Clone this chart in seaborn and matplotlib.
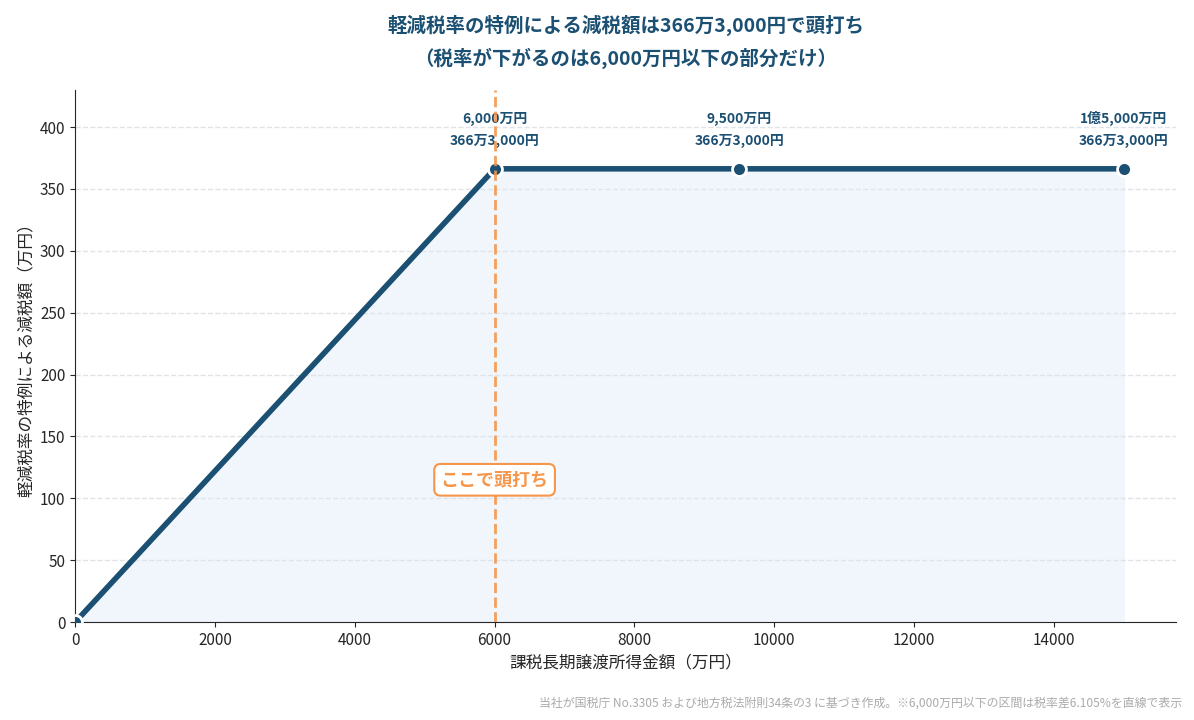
import seaborn as sns
import matplotlib.pyplot as plt
import pandas as pd

# データ（万円）
income = [0, 6000, 9500, 15000]
reduction = [0, 366.3, 366.3, 366.3]
income_labels = ['6,000万円', '9,500万円', '1億5,000万円']
reduction_label = '366万3,000円'
yticks = [0, 50, 100, 150, 200, 250, 300, 350, 400]

df = pd.DataFrame({'income': income, 'reduction': reduction})

sns.set_style('ticks')
plt.rcParams['font.family'] = ['Noto Sans CJK JP', 'DejaVu Sans']

navy = '#1b5073'
orange = '#f5964a'

fig, ax = plt.subplots(figsize=(11.94, 7.2), dpi=100)

ax.fill_between(df['income'], df['reduction'], color='#f0f6fc', zorder=0.5)
sns.lineplot(data=df, x='income', y='reduction', color=navy, linewidth=4,
             marker='o', markersize=10, markeredgecolor='white',
             markeredgewidth=2, ax=ax, zorder=3)

ax.axvline(6000, color=orange, linestyle='--', linewidth=2, alpha=0.9, zorder=4)
ax.text(6000, 115, 'ここで頭打ち', color=orange, fontsize=13, fontweight='bold',
        ha='center', va='center', zorder=5,
        bbox=dict(boxstyle='round,pad=0.35', fc='white', ec=orange, lw=1.5))

for x, y, lab in zip(income[1:], reduction[1:], income_labels):
    ax.annotate(lab + '\n' + reduction_label, (x, y), xytext=(0, 15),
                textcoords='offset points', ha='center', va='bottom',
                fontsize=10, fontweight='bold', color=navy, linespacing=1.7)

ax.set_xlim(0, 15750)
ax.set_ylim(0, 430)
ax.set_yticks(yticks)
ax.yaxis.grid(True, linestyle='--', color='#dfe4e8', linewidth=1)
ax.set_axisbelow(True)
sns.despine(ax=ax)
ax.tick_params(labelsize=11)

ax.set_xlabel('課税長期譲渡所得金額（万円）', fontsize=12)
ax.set_ylabel('軽減税率の特例による減税額（万円）', fontsize=12)
ax.set_title('軽減税率の特例による減税額は366万3,000円で頭打ち\n（税率が下がるのは6,000万円以下の部分だけ）',
             fontsize=14, fontweight='bold', color=navy, linespacing=1.7, pad=18)

fig.text(0.99, 0.015, '当社が国税庁 No.3305 および地方税法附則34条の3 に基づき作成。※6,000万円以下の区間は税率差6.105%を直線で表示',
         ha='right', va='bottom', fontsize=8.6, color='#aaaaaa')

plt.subplots_adjust(left=0.063, right=0.985, top=0.875, bottom=0.136)
plt.savefig('out.png', dpi=100)
